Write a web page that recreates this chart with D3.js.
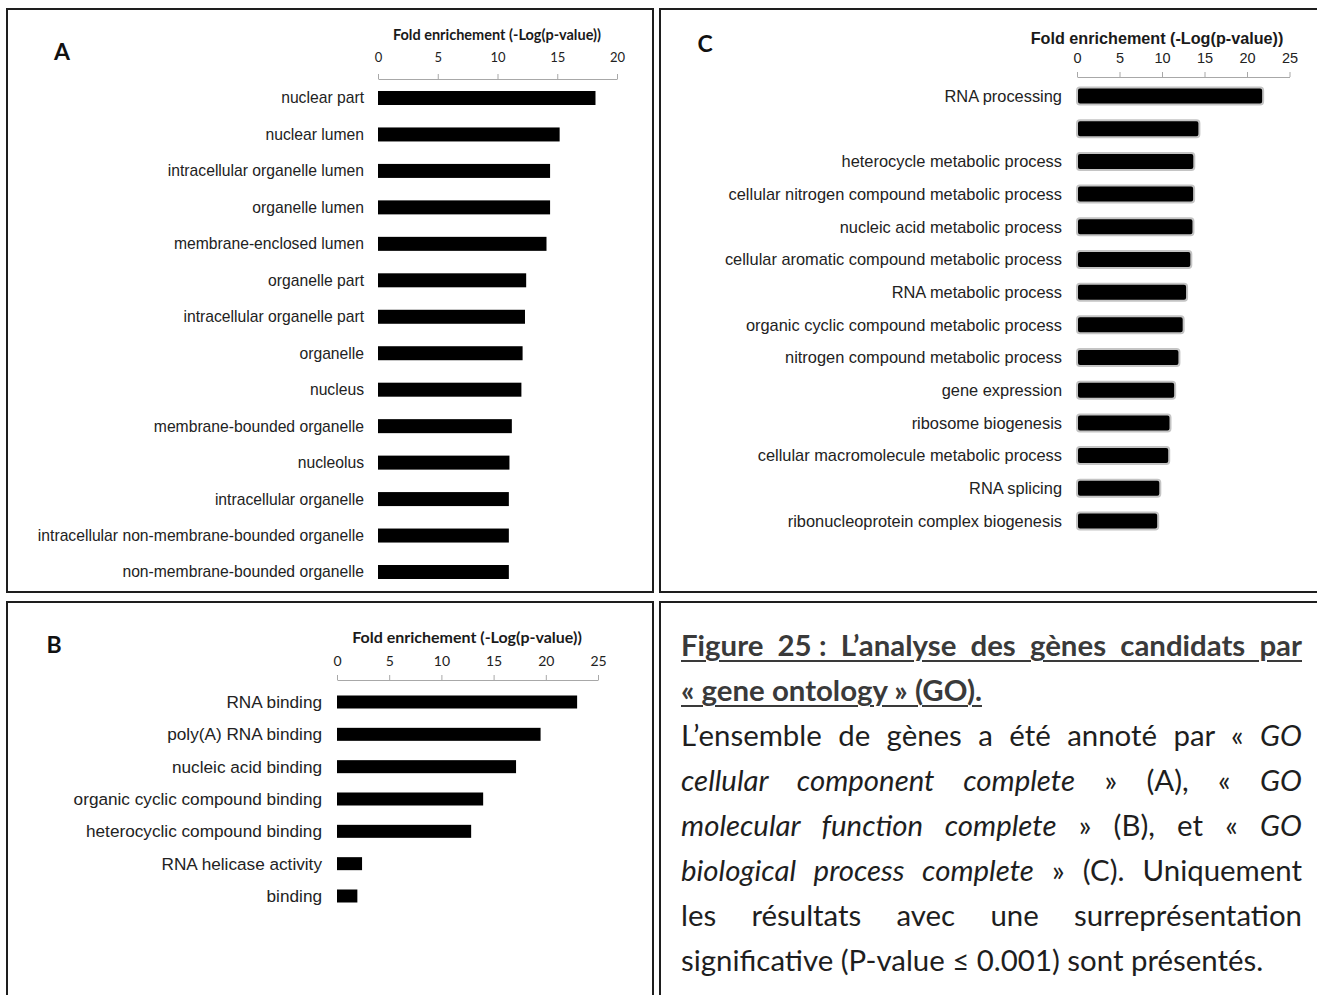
<!DOCTYPE html>
<html>
<head>
<meta charset="utf-8">
<script src="https://cdn.jsdelivr.net/npm/d3@7"></script>
<style>
  body { margin: 0; background: #fff; }
  #wrap { position: relative; width: 1317px; height: 995px; overflow: hidden; background: #fff; }
  svg { position: absolute; left: 0; top: 0; }
  #cap { position: absolute; left: 681px; top: 622px; width: 621px;
         font-family: Lato, "Open Sans", sans-serif; font-size: 29.4px; color: #1e1e1e; }
  #cap .ln { height: 45px; line-height: 45px; white-space: nowrap; }
  #cap .j { text-align: justify; text-align-last: justify; white-space: normal; }
  #cap .t { font-weight: bold; text-decoration: underline; text-decoration-thickness: 2px; text-underline-offset: 4px; color: #3a3a3a; }
</style>
</head>
<body>
<div id="wrap">
  <svg id="chart" width="1317" height="995"></svg>
  <div id="cap"></div>
</div>
<script>
// ---------------- data ----------------
const axisTitle = "Fold enrichement (-Log(p-value))";

const catsA = ["nuclear part", "nuclear lumen", "intracellular organelle lumen", "organelle lumen",
  "membrane-enclosed lumen", "organelle part", "intracellular organelle part", "organelle", "nucleus",
  "membrane-bounded organelle", "nucleolus", "intracellular organelle",
  "intracellular non-membrane-bounded organelle", "non-membrane-bounded organelle"];
const valsA = [18.2, 15.2, 14.4, 14.4, 14.1, 12.4, 12.3, 12.1, 12.0, 11.2, 11.0, 10.95, 10.95, 10.95];
const ticksA = [0, 5, 10, 15, 20];

const catsB = ["RNA binding", "poly(A) RNA binding", "nucleic acid binding", "organic cyclic compound binding",
  "heterocyclic compound binding", "RNA helicase activity", "binding"];
const valsB = [23.0, 19.5, 17.15, 14.0, 12.85, 2.4, 1.95];
const ticksB = [0, 5, 10, 15, 20, 25];

const catsC = ["RNA processing", "", "heterocycle metabolic process", "cellular nitrogen compound metabolic process",
  "nucleic acid metabolic process", "cellular aromatic compound metabolic process", "RNA metabolic process",
  "organic cyclic compound metabolic process", "nitrogen compound metabolic process", "gene expression",
  "ribosome biogenesis", "cellular macromolecule metabolic process", "RNA splicing",
  "ribonucleoprotein complex biogenesis"];
const valsC = [21.9, 14.4, 13.8, 13.78, 13.7, 13.45, 12.95, 12.55, 12.05, 11.55, 11.0, 10.85, 9.8, 9.55];
const ticksC = [0, 5, 10, 15, 20, 25];

// ---------------- layout (styles / positions) ----------------
const ARIAL = '"Liberation Sans", Arial, sans-serif';
const CALI = 'Lato, "Open Sans", sans-serif';

const panels = [
  { id: "A", cats: catsA, vals: valsA, ticks: ticksA, max: 20,
    x0: 378, x1: 617, yFirst: 98, yLast: 572, barH: 14, axisY: 79, tickPad: 12,
    titleX: 497, titleY: 40, titleFont: CALI, titleSize: 14.5,
    tickFont: CALI, tickSize: 13, labelSize: 15.7, labelGap: 14,
    letterX: 62, letterY: 60, c: false,
    box: [7, 9, 653, 592] },
  { id: "B", cats: catsB, vals: valsB, ticks: ticksB, max: 25,
    x0: 337, x1: 598, yFirst: 702, yLast: 896, barH: 13, axisY: 680, tickPad: 9,
    titleX: 467, titleY: 643, titleFont: CALI, titleSize: 16,
    tickFont: CALI, tickSize: 14, labelSize: 17.2, labelGap: 15,
    letterX: 54, letterY: 653, c: false,
    box: [7, 602, 653, 1010] },
  { id: "C", cats: catsC, vals: valsC, ticks: ticksC, max: 25,
    x0: 1077, x1: 1289.5, yFirst: 96, yLast: 521, barH: 17, axisY: 77, tickPad: 9,
    titleX: 1157, titleY: 44, titleFont: ARIAL, titleSize: 16.2,
    tickFont: ARIAL, tickSize: 14.5, labelSize: 16.4, labelGap: 15,
    letterX: 705, letterY: 52, c: true,
    box: [660, 9, 1330, 592] }
];

const svg = d3.select("#chart");

// panel frames (incl. caption frame)
const frames = panels.map(p => p.box).concat([[660, 602, 1330, 1010]]);
svg.append("g").selectAll("rect").data(frames).join("rect")
  .attr("x", d => d[0]).attr("y", d => d[1])
  .attr("width", d => d[2] - d[0]).attr("height", d => d[3] - d[1])
  .attr("fill", "none").attr("stroke", "#1e1e1e").attr("stroke-width", 2);

panels.forEach(p => {
  const g = svg.append("g");
  const x = d3.scaleLinear().domain([0, p.max]).range([p.x0, p.x1]);
  const y = d3.scalePoint().domain(d3.range(p.cats.length)).range([p.yFirst, p.yLast]);

  // panel letter
  g.append("text").attr("x", p.letterX).attr("y", p.letterY)
    .attr("text-anchor", "middle").attr("font-family", CALI).attr("font-weight", "bold")
    .attr("font-size", 23).attr("fill", "#111").text(p.id);

  // axis title
  g.append("text").attr("x", p.titleX).attr("y", p.titleY)
    .attr("text-anchor", "middle").attr("font-family", p.titleFont).attr("font-weight", "bold")
    .attr("font-size", p.titleSize).attr("fill", "#1a1a1a").text(axisTitle);

  // axis
  const ax = g.append("g").attr("transform", `translate(0,${p.axisY})`)
    .call(d3.axisTop(x).tickValues(p.ticks).tickSize(5).tickSizeOuter(0).tickPadding(p.tickPad));
  ax.select(".domain").attr("stroke", "#a8a8a8");
  ax.selectAll(".tick line").attr("stroke", "#a8a8a8");
  ax.selectAll(".tick text").attr("font-family", p.tickFont).attr("font-size", p.tickSize).attr("fill", "#222");

  // bars
  g.append("g").selectAll("rect").data(p.vals).join("rect")
    .attr("x", x(0))
    .attr("y", (d, i) => y(i) - p.barH / 2)
    .attr("width", d => x(d) - x(0))
    .attr("height", p.barH)
    .attr("fill", "#000")
    .attr("stroke", p.c ? "#c4c4c4" : "none")
    .attr("stroke-width", p.c ? 2 : 0)
    .attr("rx", p.c ? 3 : 0);

  // category labels
  g.append("g").selectAll("text").data(p.cats).join("text")
    .attr("x", x(0) - p.labelGap)
    .attr("y", (d, i) => y(i))
    .attr("dy", "0.35em")
    .attr("text-anchor", "end")
    .attr("font-family", ARIAL).attr("font-size", p.labelSize).attr("fill", "#222")
    .text(d => d);
});

// ---------------- caption ----------------
const capLines = [
  { cls: "t j", html: "Figure 25&#8239;: L’analyse des gènes candidats par" },
  { cls: "t", html: "« gene ontology » (GO)." },
  { cls: "j", html: "L’ensemble de gènes a été annoté par « <i>GO</i>" },
  { cls: "j", html: "<i>cellular component complete</i> » (A), « <i>GO</i>" },
  { cls: "j", html: "<i>molecular function complete</i> » (B), et « <i>GO</i>" },
  { cls: "j", html: "<i>biological process complete</i> » (C). Uniquement" },
  { cls: "j", html: "les résultats avec une surreprésentation" },
  { cls: "", html: "significative (P-value ≤ 0.001) sont présentés." }
];
d3.select("#cap").selectAll("div").data(capLines).join("div")
  .attr("class", d => "ln " + d.cls)
  .html(d => d.html);
</script>
</body>
</html>
